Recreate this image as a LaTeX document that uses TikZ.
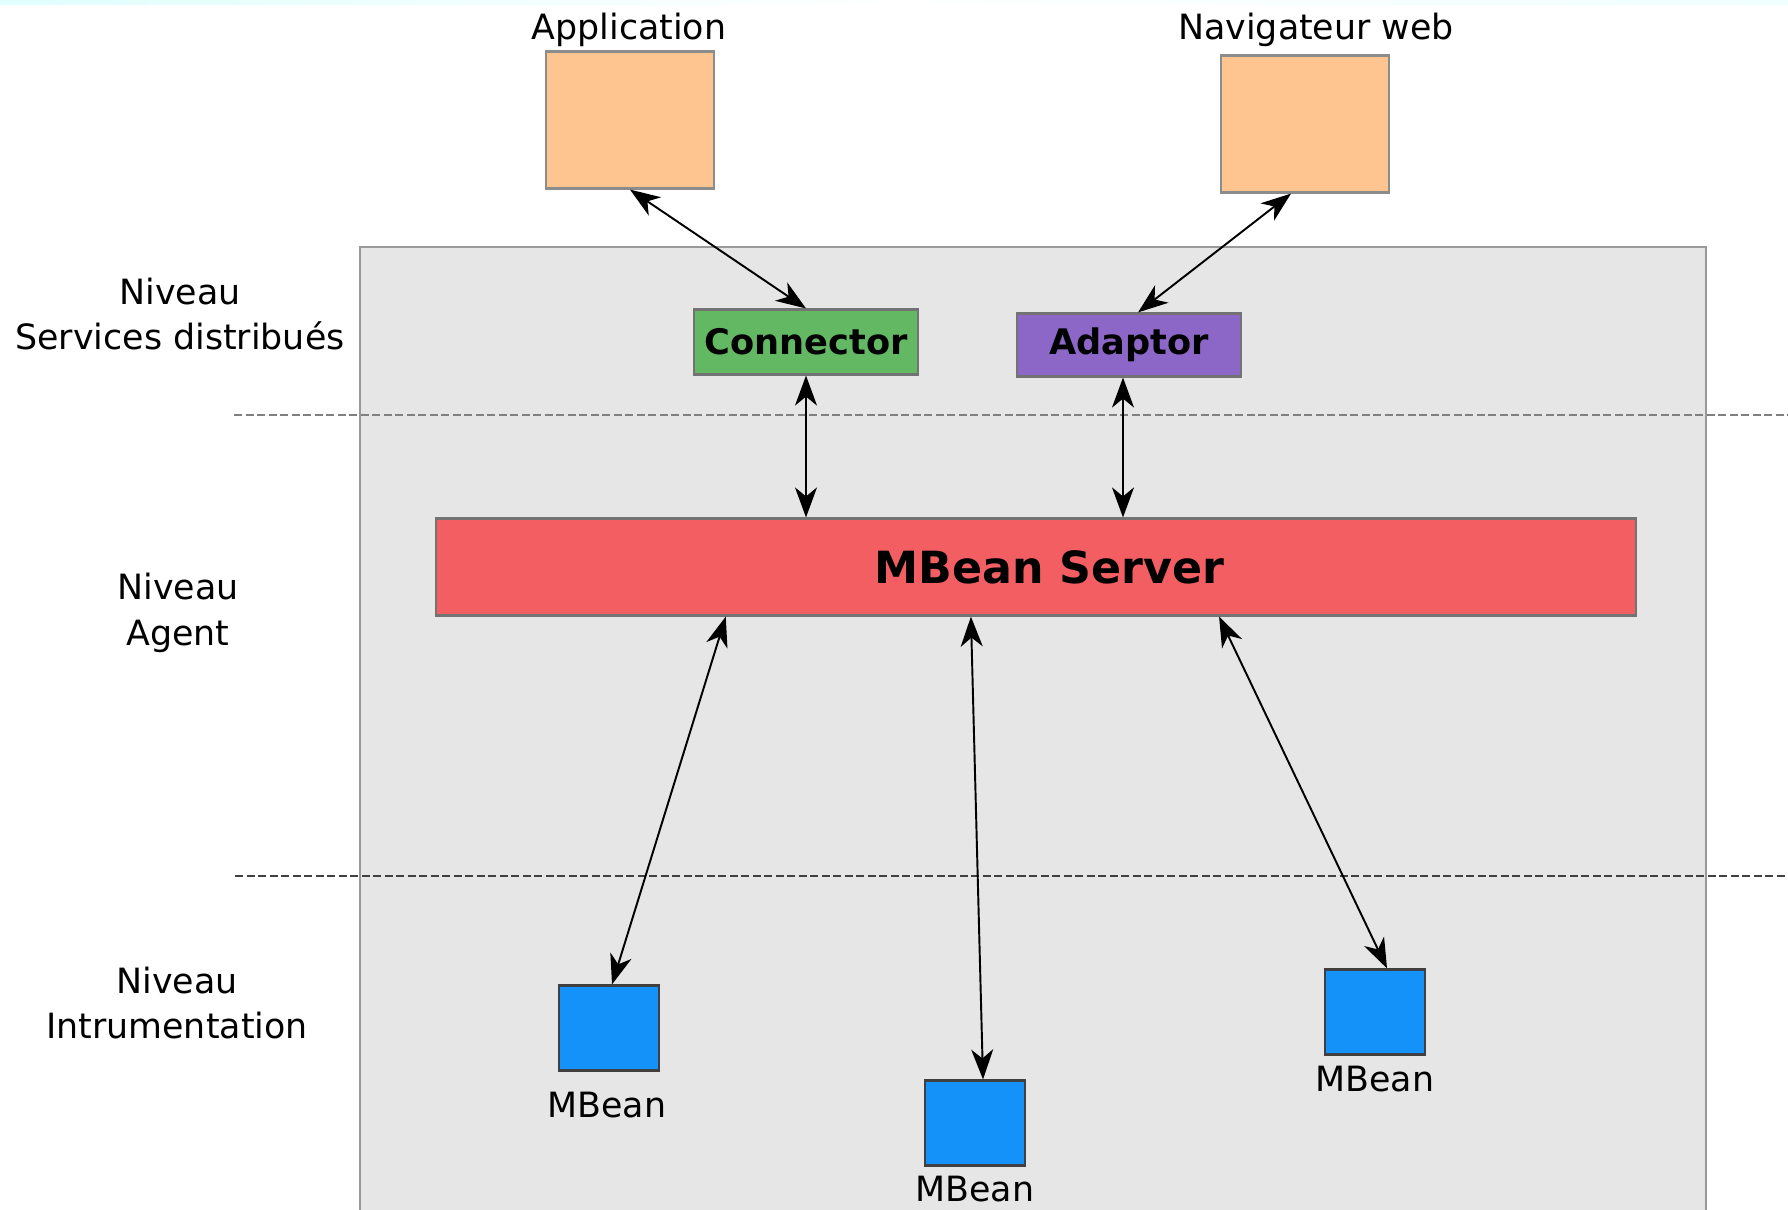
\documentclass[tikz,border=0pt]{standalone}
\usepackage{fontspec}
\setmainfont{DejaVu Sans}
\usepackage{xcolor}
\usepackage{tikz}
\usetikzlibrary{arrows.meta, positioning, calc}

\definecolor{peach}{HTML}{FFC590}
\definecolor{conngreen}{HTML}{63B863}
\definecolor{adappurple}{HTML}{8C67C8}
\definecolor{srvred}{HTML}{F25E62}
\definecolor{beanblue}{HTML}{1592FA}
\definecolor{panelgrey}{HTML}{E6E6E6}

\begin{document}
\begin{tikzpicture}[x=0.01cm, y=-0.01cm,
    txt/.style={font=\fontsize{9.9}{13}\selectfont, align=center, inner sep=0pt},
    client/.style={draw=black!45, fill=peach, line width=0.6pt, minimum width=1.68cm, minimum height=1.37cm, inner sep=0pt},
    comp/.style={draw=black!55, line width=0.6pt, minimum width=2.24cm, minimum height=0.65cm,
                 inner sep=0pt, font=\fontsize{10}{12}\selectfont\bfseries},
    bean/.style={draw=black!75, fill=beanblue, line width=0.6pt, minimum width=1cm, minimum height=0.85cm, inner sep=0pt},
    level/.style={dashed, dash pattern=on 0.08cm off 0.035cm},
    arr/.style={{Stealth[length=0.3cm, width=0.22cm, inset=0.09cm]}-{Stealth[length=0.3cm, width=0.22cm, inset=0.09cm]},
                line width=0.55pt}
]
\useasboundingbox (0,0) rectangle (1788,1209);

% faint band at the top
\shade[left color=cyan!12, right color=cyan!6, middle color=white] (0,0) rectangle (1788,4);

% panel of the JMX agent
\fill[panelgrey] (360,247) rectangle (1706,1215);
\draw[black!40, line width=0.7pt] (360,1215) -- (360,247) -- (1706,247) -- (1706,1215);

% level separators
\draw[level, black!50, line width=0.6pt] (234,415) -- (1788,415);
\draw[level, black!75, line width=0.8pt] (235,876) -- (1788,876);

% level names
\node[txt] (lsvc) at (180,314) {Niveau\\Services distribués};
\node[txt] (lagt) at (178,613) {Niveau\\Agent};
\node[txt] (lins) at (177,1003) {Niveau\\Intrumentation};

% clients
\node[client] (app) at (630,120) {};
\node[client] (nav) at (1305,124) {};
\node[txt] (tapp) at (629,30) {Application};
\node[txt] (tnav) at (1316,30) {Navigateur web};

% distributed services
\node[comp, fill=conngreen]  (conn) at (806,342) {Connector};
\node[comp, fill=adappurple, minimum height=0.63cm] (adap) at (1129,345) {Adaptor};

% agent
\node[comp, fill=srvred, minimum width=12cm, minimum height=0.97cm,
      font=\fontsize{12.6}{14}\selectfont\bfseries] (srv) at (1036,567) {\hspace{0.27cm}MBean Server};

% instrumentation
\node[bean] (mb1) at (609,1028) {};
\node[bean] (mb2) at (975,1123) {};
\node[bean] (mb3) at (1375,1012) {};
\node[txt] (tmb1) at (607,1105) {MBean};
\node[txt] (tmb2) at (975,1189) {MBean};
\node[txt] (tmb3) at (1375,1079) {MBean};

\draw[arr] (app.south) -- (conn.north);
\draw[arr] ([xshift=-0.14cm]nav.south) -- ([xshift=0.09cm]adap.north);
\draw[arr] (conn.south) -- (conn.south |- srv.north);
\draw[arr] ([xshift=-0.06cm]adap.south) -- ([xshift=-0.06cm]adap.south |- srv.north);
\draw[arr] ([xshift=2.91cm]srv.south west) -- ([xshift=0.03cm]mb1.north);
\draw[arr] ([xshift=5.36cm]srv.south west) -- ([xshift=0.08cm]mb2.north);
\draw[arr] ([xshift=7.84cm]srv.south west) -- ([xshift=0.12cm]mb3.north);
\end{tikzpicture}
\end{document}
